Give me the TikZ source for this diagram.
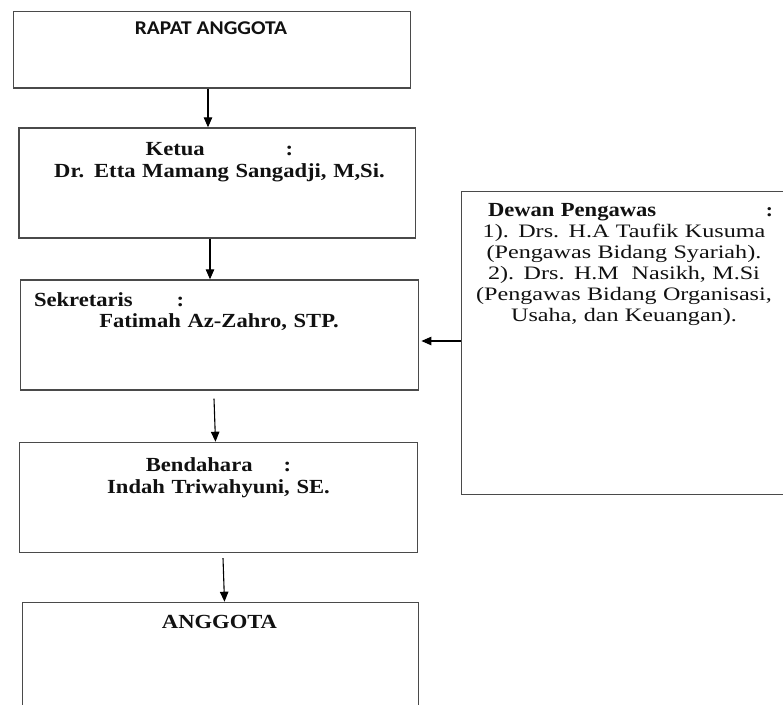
\documentclass[tikz,border=0pt]{standalone}
\usepackage{fontspec}
\setmainfont{Liberation Serif}[FakeStretch=1.13]
\newfontfamily\calfont{Carlito}[FakeStretch=1.1]
\newfontfamily\dewanfont{Liberation Serif}[FakeStretch=1.27]
\usetikzlibrary{arrows.meta,calc}
\definecolor{boxgray}{HTML}{4A4A4A}
\definecolor{txt}{HTML}{111111}
\begin{document}
\begin{tikzpicture}[x=1pt,y=-1pt,
  boxst/.style={draw=boxgray, line width=1.4pt, anchor=north west, inner sep=0pt},
  arr/.style={draw=black, line width=1.1pt, -{Triangle[length=10pt,width=8.5pt]}},
  bt/.style={font=\fontsize{20}{21.5}\selectfont\bfseries, text=txt, inner sep=0pt,
    anchor=base, text width=384pt, align=center},
  rt/.style={font=\fontsize{19}{21}\selectfont\dewanfont, text=txt, inner sep=0pt,
    anchor=base, text width=300pt, align=center},
  st/.style={font=\fontsize{19.5}{22}\selectfont\calfont\bfseries, text=txt, inner sep=0pt, anchor=base},
]
\useasboundingbox (0,0) rectangle (783,704);
\clip (0,0) rectangle (783,704);
\fill[white] (0,0) rectangle (783,704);

% boxes
\node[boxst, minimum width=397.3pt, minimum height=76.6pt] (b1) at (12.7,10.7) {};
\node[boxst, minimum width=396.7pt, minimum height=110pt] (b2) at (18.3,127.3) {};
\node[boxst, minimum width=398pt, minimum height=110pt] (b3) at (20,279.3) {};
\node[boxst, minimum width=398pt, minimum height=110pt] (b4) at (19,441.7) {};
\node[boxst, minimum width=396.3pt, minimum height=130pt] (b5) at (21.7,601.7) {};
\node[boxst, minimum width=340pt, minimum height=303.3pt] (b6) at (461,190.7) {};

% texts
\node[st] (t1) at (211,34.4) {RAPAT ANGGOTA};

\node[bt] (t2) at (219.5,155.6) {Ketua\hspace{81pt}:\\Dr. Etta Mamang Sangadji, M,Si.};

\node[bt] (t3) at (219,306.1)
  {\makebox[\linewidth][l]{\hspace{7pt}Sekretaris\hspace{44pt}:}\\Fatimah Az-Zahro, STP.};

\node[bt] (t4) at (218.5,471.6) {Bendahara\hspace{31pt}:\\Indah Triwahyuni, SE.};

\node[bt] (t5) at (219.5,628.6) {ANGGOTA};

\node[rt] (t6) at (624,216)
  {\makebox[\linewidth][l]{\hspace{14pt}{\fontsize{20}{21}\selectfont\rmfamily\bfseries Dewan Pengawas}\hfill{\rmfamily\bfseries :}\hspace{1pt}}\\
   1). Drs. H.A Taufik Kusuma\\
   (Pengawas Bidang Syariah).\\
   2). Drs. H.M\ \ Nasikh, M.Si\\
   (Pengawas Bidang Organisasi,\\
   Usaha, dan Keuangan).};

% connectors
\coordinate (x1) at (208,0);
\coordinate (x2) at (210,0);
\coordinate (x3) at (214,0);
\coordinate (x4) at (223,0);
\coordinate (y5) at (0,341);
\draw[arr] (x1 |- b1.south) -- (x1 |- b2.north);
\draw[arr] (x2 |- b2.south) -- (x2 |- b3.north);
\draw[arr] ($(x3 |- b3.south)+(0,8)$) -- ($(x3 |- b4.north)+(1.5,0)$);
\draw[arr] ($(x4 |- b4.south)+(0,5)$) -- ($(x4 |- b5.north)+(1.5,0)$);
\draw[arr] (b6.west |- y5) -- ($(b3.east |- y5)+(2,0)$);
\end{tikzpicture}
\end{document}
